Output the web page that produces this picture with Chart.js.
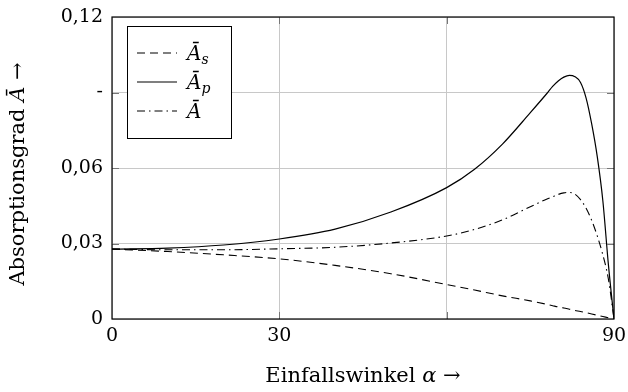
<!DOCTYPE html>
<html><head><meta charset="utf-8">
<script src="https://cdn.jsdelivr.net/npm/chart.js@4.4.0/dist/chart.umd.min.js"></script>
<style>html,body{margin:0;padding:0;background:#fff}#wrap{width:628px;height:392px}</style>
</head><body><div id="wrap"><canvas id="c" width="628" height="392"></canvas></div>
<script>
const angles   = [0, 10, 20, 30, 40, 50, 60, 65, 70, 75, 78, 79, 80, 81, 82, 83, 84, 85, 86, 87, 88, 89, 90];
const absS     = [0.0278, 0.0268, 0.0255, 0.0239, 0.0213, 0.0180, 0.0137, 0.0115, 0.0092, 0.0072, 0.0058, 0.0053, 0.0048, 0.0044, 0.0039, 0.0034, 0.0030, 0.0025, 0.0020, 0.0015, 0.0010, 0.0005, 0];
const absP     = [0.0278, 0.0282, 0.0294, 0.0318, 0.0357, 0.0425, 0.0522, 0.0595, 0.0695, 0.0820, 0.0897, 0.0924, 0.0946, 0.0961, 0.0968, 0.0963, 0.0940, 0.0878, 0.0775, 0.0645, 0.0470, 0.0215, 0];
const absMean  = [0.0278, 0.0275, 0.0275, 0.0279, 0.0285, 0.0302, 0.0330, 0.0356, 0.0394, 0.0446, 0.0477, 0.0486, 0.0495, 0.0501, 0.0503, 0.0496, 0.0474, 0.0440, 0.0392, 0.0330, 0.0255, 0.0158, 0];
const xTicks = [0, 30, 60, 90];
const xTickLabels = ['0', '30', '', '90'];
const yTicks = [0, 0.03, 0.06, 0.09, 0.12];
const yTickLabels = ['0', '0,03', '0,06', '-', '0,12'];
const legendBase = ['Ā', 'Ā', 'Ā'];
const legendSub = ['s', 'p', ''];
const xTitleParts = [['Einfallswinkel ', false], ['α', true], [' →', false]];
const yTitleParts = [['Absorptionsgrad ', false], ['Ā', true], [' →', false]];

const FAM = '"DejaVu Serif", "Liberation Serif", serif';
const FS = 19;
const TFS = 21;

function pts(vals){ return angles.map((a,i)=>({x:a, y:vals[i]})); }

function drawParts(ctx, parts, size){
  let total = 0;
  parts.forEach(([t,it])=>{ ctx.font = (it?'italic ':'') + size + 'px ' + FAM; total += ctx.measureText(t).width; });
  let x = -total/2;
  parts.forEach(([t,it])=>{ ctx.font = (it?'italic ':'') + size + 'px ' + FAM; ctx.fillText(t, x, 0); x += ctx.measureText(t).width; });
}

const framePlugin = {
  id:'frame',
  afterDatasetsDraw(chart){
    const {ctx, chartArea:a, scales} = chart;
    ctx.save();
    ctx.strokeStyle = '#777'; ctx.lineWidth = 1;
    const tl = 7;
    xTicks.forEach(v=>{
      if (v===xTicks[0] || v===xTicks[xTicks.length-1]) return;
      const px = Math.round(scales.x.getPixelForValue(v))+0.5;
      ctx.beginPath(); ctx.moveTo(px,a.bottom); ctx.lineTo(px,a.bottom-tl);
      ctx.moveTo(px,a.top); ctx.lineTo(px,a.top+tl); ctx.stroke();
    });
    yTicks.forEach(v=>{
      if (v===yTicks[0] || v===yTicks[yTicks.length-1]) return;
      const py = Math.round(scales.y.getPixelForValue(v))+0.5;
      ctx.beginPath(); ctx.moveTo(a.left,py); ctx.lineTo(a.left+tl,py);
      ctx.moveTo(a.right,py); ctx.lineTo(a.right-tl,py); ctx.stroke();
    });
    ctx.strokeStyle = '#000'; ctx.lineWidth = 1.2;
    ctx.strokeRect(a.left, a.top, a.right-a.left, a.bottom-a.top);
    ctx.restore();
  }
};

const titlePlugin = {
  id:'titles',
  afterDraw(chart){
    const {ctx, chartArea:a} = chart;
    ctx.save();
    ctx.fillStyle = '#000'; ctx.textBaseline = 'middle'; ctx.textAlign = 'left';
    ctx.save(); ctx.translate((a.left+a.right)/2, 377); drawParts(ctx, xTitleParts, TFS); ctx.restore();
    ctx.save(); ctx.translate(19, (a.top+a.bottom)/2 + 6); ctx.rotate(-Math.PI/2); drawParts(ctx, yTitleParts, TFS); ctx.restore();
    ctx.restore();
  }
};

const legendPlugin = {
  id:'boxLegend',
  afterDatasetsDraw(chart){
    const {ctx, chartArea:a} = chart;
    const x0 = a.left+15, y0 = a.top+9, w = 104, h = 112;
    ctx.save();
    ctx.fillStyle = '#fff'; ctx.fillRect(x0, y0, w, h);
    ctx.strokeStyle = '#000'; ctx.lineWidth = 1; ctx.strokeRect(x0+0.5, y0+0.5, w, h);
    chart.data.datasets.forEach((ds,i)=>{
      const y = y0 + 27 + i*29;
      ctx.setLineDash(ds.borderDash || []);
      ctx.lineWidth = ds.borderWidth; ctx.strokeStyle = ds.borderColor;
      ctx.beginPath(); ctx.moveTo(x0+10, y); ctx.lineTo(x0+50, y); ctx.stroke();
      ctx.setLineDash([]);
      ctx.fillStyle = '#000'; ctx.textBaseline = 'alphabetic'; ctx.textAlign = 'left';
      ctx.font = 'italic 20px ' + FAM;
      ctx.fillText(legendBase[i], x0+60, y+7);
      const bw = ctx.measureText(legendBase[i]).width;
      if (legendSub[i]) {
        ctx.font = 'italic 14px ' + FAM;
        ctx.fillText(legendSub[i], x0+60+bw, y+11);
      }
    });
    ctx.restore();
  }
};

new Chart(document.getElementById('c'), {
  type:'line',
  data:{ datasets:[
    {label:'As', data:pts(absS), borderColor:'#000', borderWidth:1.1, borderDash:[8,5], pointRadius:0, cubicInterpolationMode:'monotone', fill:false},
    {label:'Ap', data:pts(absP), borderColor:'#000', borderWidth:1.2, borderDash:[], pointRadius:0, cubicInterpolationMode:'monotone', fill:false},
    {label:'A',  data:pts(absMean), borderColor:'#000', borderWidth:1.1, borderDash:[8,4,1.5,4], pointRadius:0, cubicInterpolationMode:'monotone', fill:false}
  ]},
  options:{
    responsive:false, animation:false, devicePixelRatio:1,
    layout:{padding:{left:0, right:14, top:17, bottom:0}},
    plugins:{legend:{display:false}, tooltip:{enabled:false}},
    scales:{
      x:{type:'linear', min:0, max:90,
        afterBuildTicks:s=>{ s.ticks = xTicks.map(v=>({value:v})); },
        afterFit:s=>{ s.height = 73; s.paddingLeft = 0; s.paddingRight = 0; },
        ticks:{callback:v=>{const i=xTicks.indexOf(v); return i<0?'':xTickLabels[i];}, font:{family:FAM,size:FS}, color:'#000', padding:6, maxRotation:0, autoSkip:false},
        grid:{color:'#c8c8c8', drawTicks:false, lineWidth:1},
        border:{display:false}
      },
      y:{type:'linear', min:0, max:0.12,
        afterBuildTicks:s=>{ s.ticks = yTicks.map(v=>({value:v})); },
        afterFit:s=>{ s.width = 112; s.paddingTop = 0; s.paddingBottom = 0; },
        ticks:{callback:v=>{const i=yTicks.findIndex(t=>Math.abs(t-v)<1e-9); return i<0?'':yTickLabels[i];}, font:{family:FAM,size:FS}, color:'#000', padding:9, autoSkip:false},
        grid:{color:'#c8c8c8', drawTicks:false, lineWidth:1},
        border:{display:false}
      }
    }
  },
  plugins:[framePlugin, legendPlugin, titlePlugin]
});
</script></body></html>
